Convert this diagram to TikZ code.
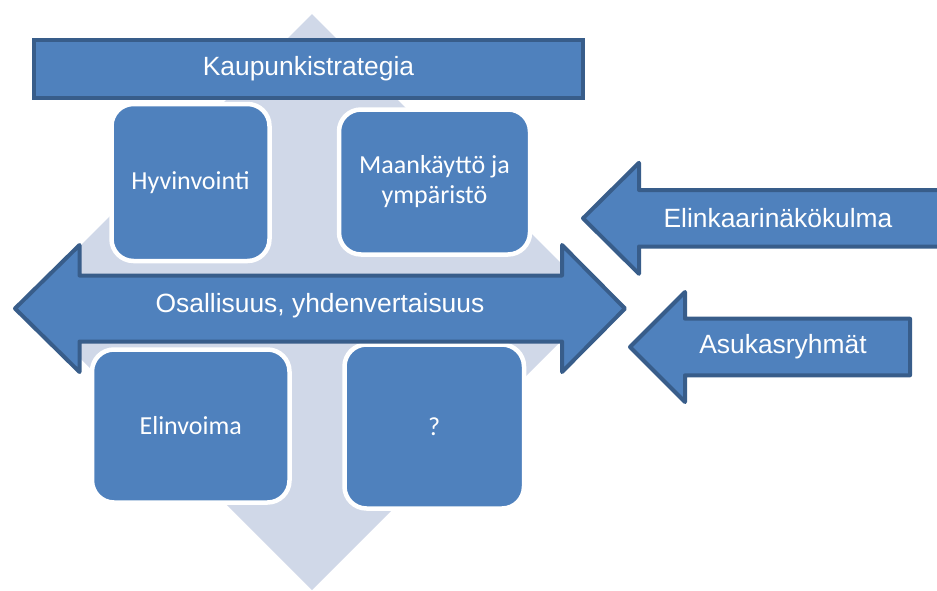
\documentclass[tikz,border=0pt]{standalone}
\usepackage{fontspec}
\setmainfont{Liberation Sans}
\newfontfamily\calibrifont{Carlito}
\definecolor{fillblue}{HTML}{4F81BD}
\definecolor{edgeblue}{HTML}{385D8A}
\definecolor{diamondgray}{HTML}{D0D8E8}
\tikzset{
  bluearrow/.style={fill=fillblue, draw=edgeblue, line width=4pt, line join=round},
  barbox/.style={fill=fillblue, draw=edgeblue, line width=4pt, text=white, inner sep=0pt,
    font=\fontsize{26.4}{30}\selectfont},
  roundbox/.style={fill=fillblue, draw=white, line width=4.5pt, rounded corners=22pt,
    text=white, align=center, inner sep=0pt, font=\calibrifont\fontsize{26}{30}\selectfont},
  arrowtext/.style={text=white, inner sep=0pt, font=\fontsize{26.4}{30}\selectfont}
}
\begin{document}
\begin{tikzpicture}[x=1pt,y=-1pt]
\useasboundingbox (0,0) rectangle (937,590);
\clip (0,0) rectangle (937,590);
% background diamond
\fill[diamondgray] (312,14) -- (600,302) -- (312,590) -- (24,302) -- cycle;
% top bar
\node[barbox, minimum width=549pt, minimum height=58pt] (ks) at (308.5,69) {Kaupunkistrategia};
% four boxes
\node[roundbox, minimum width=158pt, minimum height=157pt] (hyv) at (190.5,182.5) {Hyvinvointi};
\node[roundbox, minimum width=191pt, minimum height=145pt] (maa) at (434.5,182) {Maankäyttö ja\\ympäristö};
\node[roundbox, minimum width=197.5pt, minimum height=153pt] (eli) at (190.75,426) {Elinvoima};
\node[roundbox, minimum width=179.5pt, minimum height=164pt] (que) at (434.25,426.5) {?};
% double arrow
\draw[bluearrow] (15,308.5) -- (79.5,245) -- (79.5,275.5) -- (562,275.5) -- (562,245)
  -- (625,308.5) -- (562,372) -- (562,341.5) -- (79.5,341.5) -- (79.5,372) -- cycle;
\node[arrowtext] (osa) at (320,306) {Osallisuus, yhdenvertaisuus};
% Elinkaarinäkökulma arrow
\draw[bluearrow] (583,218.3) -- (639,162.8) -- (639,190) -- (950,190) -- (950,246.5)
  -- (639,246.5) -- (639,273.8) -- cycle;
\node[arrowtext] (elk) at (778,218) {Elinkaarinäkökulma};
% Asukasryhmät arrow
\draw[bluearrow] (630,347) -- (685,292) -- (685,318.7) -- (910,318.7) -- (910,375.3)
  -- (685,375.3) -- (685,402) -- cycle;
\node[arrowtext] (asu) at (783,347) {Asukasryhmät};
\end{tikzpicture}
\end{document}
